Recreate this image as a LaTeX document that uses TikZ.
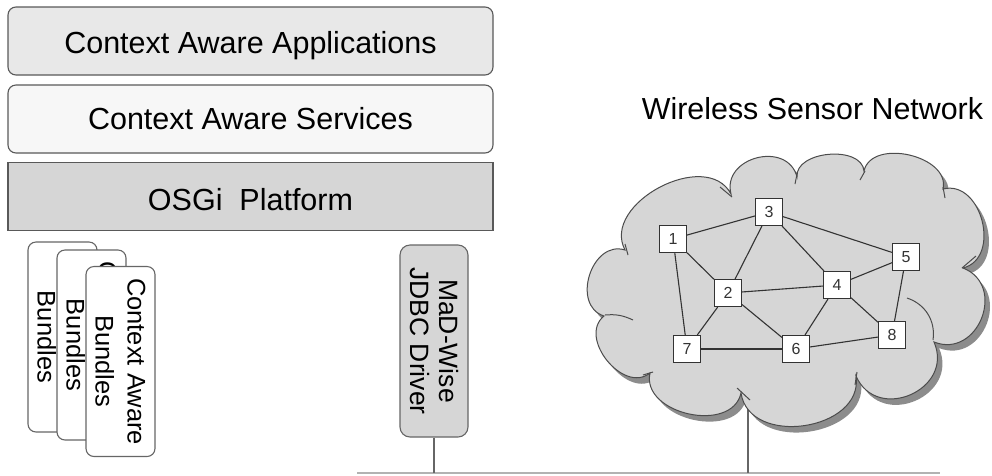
\documentclass[tikz,border=0pt]{standalone}
\usepackage{fontspec}
\setmainfont{Liberation Sans}
\begin{document}
\begin{tikzpicture}[x=1pt,y=-1pt,
  layer/.style={draw=black!65, line width=1.1pt, minimum width=485pt, minimum height=68pt, inner sep=0pt,
    font=\fontsize{30.5}{36}\selectfont, text height=21.8pt, text depth=0pt},
  card/.style={draw=black!60, fill=white, line width=1.1pt, rounded corners=8pt, rotate=-90,
    minimum width=190pt, minimum height=69pt, inner sep=0pt, align=center,
    font=\fontsize{25.5}{32}\selectfont},
  madbox/.style={draw=black!60, fill=black!16, line width=1.1pt, rounded corners=10pt, rotate=-90,
    minimum width=192pt, minimum height=68pt, inner sep=0pt, align=center,
    font=\fontsize{26.5}{29}\selectfont},
  sensor/.style={draw=black!80, fill=white, line width=1.1pt, minimum size=27pt, inner sep=0pt,
    font=\fontsize{16}{16}\selectfont, text=black!80},
  link/.style={draw=black!80, line width=1.1pt},
  bus/.style={draw=black!30, line width=1.3pt},
  drop/.style={draw=black!60, line width=1.1pt},
  notch/.style={draw=black!70, line width=1pt}]
\useasboundingbox (0,0) rectangle (992,475);

% layers
\node[layer, rounded corners=8pt, fill=black!9, text height=24.8pt] (apps) at (250.5,41) {Context Aware Applications};
\node[layer, rounded corners=8pt, fill=black!3] (serv) at (250.5,119) {Context Aware Services};
\node[layer, fill=black!16, text height=27.8pt] (osgi) at (250.5,196.5) {OSGi\ \ Platform};

% bundle cards
\node[card] (card1) at (62.5,337) {Context Aware\\Bundles};
\node[card] (card2) at (91.5,345) {Context Aware\\Bundles};
\node[card] (card3) at (120.5,361.5) {Context Aware\\Bundles};

% MaD-Wise driver
\node[madbox] (mad) at (434,341) {MaD-Wise\\JDBC Driver};

% bus
\coordinate (busL) at (357,473);
\coordinate (busR) at (940,473);
\coordinate (madB) at (434,473);
\coordinate (cloudB) at (748,473);
\coordinate (cloudT) at (748,398);
\draw[bus] (busL) -- (busR);
\draw[drop] (mad.east) -- (madB);
\draw[drop] (cloudT) -- (cloudB);

% cloud
\def\cloudpath{(625,250) to[bend left=90,looseness=1.12] (731,194)
  to[bend left=90,looseness=1.43] (797,177)
  to[bend left=90,looseness=1.0] (864,171)
  to[bend left=90,looseness=1.08] (943,189)
  to[bend left=90,looseness=1.26] (963,268)
  to[bend left=90,looseness=1.53] (934,342)
  to[bend left=90,looseness=1.56] (856,376)
  to[bend left=90,looseness=1.22] (741,393)
  to[bend left=90,looseness=1.16] (650,373)
  to[bend left=90,looseness=1.19] (604,316)
  to[bend left=90,looseness=1.29] (625,250) -- cycle}
\fill[black!45, shift={(5,6)}] \cloudpath;
\path[draw=black!70, line width=1pt, fill=black!16] \cloudpath;
% inner notch strokes
\draw[notch] (625,244) -- (628,255);
\draw[notch] (720,187) -- (732,197);
\draw[notch] (797,174) -- (795,184);
\draw[notch] (865,171) -- (860,180);
\draw[notch] (943,187) -- (945,198);
\draw[notch] (976,256) -- (962,268);
\draw[notch] (907,298) to[bend left=40] (933,340);
\draw[notch] (857,372) -- (855,385);
\draw[notch] (737,388) -- (750,400);
\draw[notch] (643,375) -- (653,372);
\draw[notch] (633,320) to[bend right=15] (605,315);

\node[font=\fontsize{30.4}{36}\selectfont, text height=21.8pt, text depth=0pt, inner sep=0pt] (wsn) at (812.5,109) {Wireless Sensor Network};

% sensors
\node[sensor] (n1) at (673,239) {1};
\node[sensor] (n2) at (728,293) {2};
\node[sensor] (n3) at (769,212) {3};
\node[sensor] (n4) at (837,285) {4};
\node[sensor] (n5) at (906,257) {5};
\node[sensor] (n6) at (796,349) {6};
\node[sensor] (n7) at (687,349) {7};
\node[sensor] (n8) at (892,335) {8};

\draw[link] (n1) -- (n3);
\draw[link] (n1) -- (n2);
\draw[link] (n1) -- (n7);
\draw[link] (n3) -- (n2);
\draw[link] (n3) -- (n4);
\draw[link] (n3) -- (n5);
\draw[link] (n5) -- (n4);
\draw[link] (n5) -- (n8);
\draw[link] (n2) -- (n4);
\draw[link] (n2) -- (n7);
\draw[link] (n2) -- (n6);
\draw[link] (n4) -- (n6);
\draw[link] (n4) -- (n8);
\draw[link] (n7) -- (n6);
\draw[link] (n6) -- (n8);
\end{tikzpicture}
\end{document}
